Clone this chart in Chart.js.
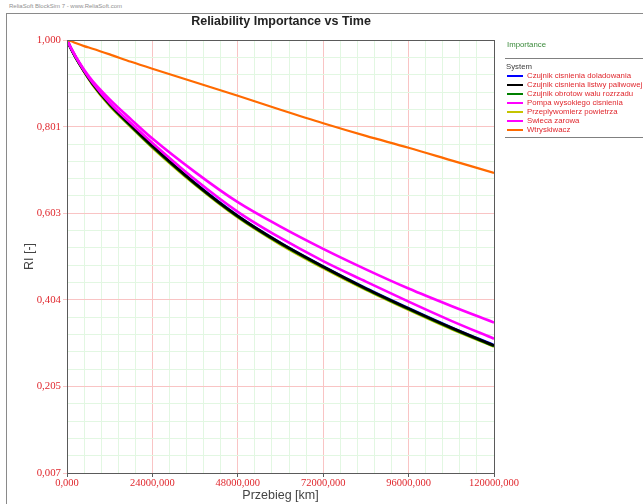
<!DOCTYPE html>
<html>
<head>
<meta charset="utf-8">
<script src="https://cdn.jsdelivr.net/npm/chart.js@4.4.1/dist/chart.umd.min.js"></script>
<style>
  html, body { margin: 0; padding: 0; background: #fff; }
  body { width: 643px; height: 504px; position: relative; overflow: hidden; font-family: "Liberation Sans", Arial, sans-serif; }
  #frame { position: absolute; left: 6px; top: 13px; width: 700px; height: 600px; border-left: 1px solid #8a8a8a; border-top: 1px solid #8a8a8a; }
  #hdr { position: absolute; left: 9px; top: 3px; font-size: 6px; color: #909090; white-space: nowrap; }
  #chartBox { position: absolute; left: 0; top: 0; width: 562px; height: 504px; }
  #legend { position: absolute; left: 505px; top: 38px; width: 138px; font-size: 7.8px; }
  #legend .head { color: #3a8a3a; height: 14px; line-height: 14px; padding-left: 2px; margin-bottom: 6px; }
  #legend .sep { border-top: 1px solid #808080; height: 0; margin: 0; }
  #legend .sys { color: #404040; line-height: 9px; height: 9px; padding-left: 1px; margin-top: 3px; }
  #legend .row { height: 9px; line-height: 9px; position: relative; white-space: nowrap; }
  #legend .row .sw { position: absolute; left: 2px; top: 4px; width: 16px; height: 2px; }
  #legend .row .tx { position: absolute; left: 22px; top: 0; color: #e0282e; }
</style>
</head>
<body>
<div id="hdr">ReliaSoft BlockSim 7 - www.ReliaSoft.com</div>
<div id="frame"></div>
<div id="chartBox"><canvas id="c" width="562" height="504"></canvas></div>
<div id="legend"></div>
<script>
// ---- data ----
const xValues = [0, 1200000, 2400000, 4800000, 7200000, 12000000, 18000000, 24000000, 36000000, 48000000, 60000000, 72000000, 84000000, 96000000, 108000000, 120000000];

const seriesNames = [
  "Czujnik cisnienia doladowania",
  "Czujnik cisnienia listwy paliwowej",
  "Czujnik obrotow walu rozrzadu",
  "Pompa wysokiego cisnienia",
  "Przeplywomierz powietrza",
  "Swieca zarowa",
  "Wtryskiwacz"
];
const seriesColors = ["#0000ff", "#000000", "#008000", "#ff00ff", "#c4c400", "#ff00ff", "#ff6a00"];

const doladowania = [1.000, 0.979, 0.961, 0.929, 0.900, 0.853, 0.804, 0.757, 0.672, 0.597, 0.535, 0.481, 0.431, 0.385, 0.341, 0.300];
const listwy      = [1.000, 0.979, 0.961, 0.929, 0.900, 0.853, 0.804, 0.757, 0.671, 0.596, 0.534, 0.480, 0.430, 0.384, 0.340, 0.299];
const obrotow     = [1.000, 0.979, 0.960, 0.928, 0.899, 0.851, 0.802, 0.755, 0.670, 0.595, 0.533, 0.479, 0.429, 0.383, 0.339, 0.298];
const pompa       = [1.000, 0.981, 0.963, 0.932, 0.906, 0.864, 0.818, 0.774, 0.697, 0.628, 0.572, 0.521, 0.474, 0.430, 0.390, 0.352];
const przeplyw    = [1.000, 0.979, 0.960, 0.927, 0.897, 0.849, 0.800, 0.753, 0.668, 0.593, 0.531, 0.477, 0.427, 0.381, 0.337, 0.297];
const swieca      = [1.000, 0.980, 0.962, 0.930, 0.902, 0.856, 0.809, 0.764, 0.680, 0.606, 0.546, 0.493, 0.446, 0.400, 0.356, 0.315];
const wtryskiwacz = [1.000, 0.997, 0.993, 0.986, 0.980, 0.967, 0.950, 0.934, 0.903, 0.872, 0.840, 0.809, 0.780, 0.753, 0.724, 0.695];

const yTickValues = [0.007, 0.205, 0.404, 0.603, 0.801, 1.000];
const yTickLabels = ["0,007", "0,205", "0,404", "0,603", "0,801", "1,000"];
const xTickValues = [0, 24000000, 48000000, 72000000, 96000000, 120000000];
const xTickLabels = ["0,000", "24000,000", "48000,000", "72000,000", "96000,000", "120000,000"];
const minorDivisions = 5;

const allSeries = [doladowania, listwy, obrotow, pompa, przeplyw, swieca, wtryskiwacz];
const drawOrder = [4, 2, 3, 1, 5, 1, 0]; // lower = drawn on top

// ---- legend (HTML text) ----
(function buildLegend() {
  const lg = document.getElementById('legend');
  let html = '<div class="head">Importance</div><div class="sep"></div><div class="sys">System</div>';
  seriesNames.forEach((n, i) => {
    html += '<div class="row"><div class="sw" style="background:' + seriesColors[i] + '"></div><div class="tx">' + n + '</div></div>';
  });
  html += '<div class="sep" style="margin-top:3px"></div>';
  lg.innerHTML = html;
})();

function withMinor(majors) {
  const out = [];
  for (let i = 0; i < majors.length; i++) {
    out.push({ value: majors[i], major: true });
    if (i < majors.length - 1) {
      const step = (majors[i + 1] - majors[i]) / minorDivisions;
      for (let k = 1; k < minorDivisions; k++) out.push({ value: majors[i] + k * step, major: false });
    }
  }
  return out;
}

const MAJOR_GRID = '#f9c4c4';
const MINOR_GRID = '#e2f7e2';
const AXIS_COL = '#5a5a5a';
const TICK_RED = '#e0282e';

const frameBorder = {
  id: 'frameBorder',
  afterDatasetsDraw(chart) {
    const { ctx, chartArea: a } = chart;
    ctx.save();
    ctx.strokeStyle = AXIS_COL;
    ctx.lineWidth = 1;
    ctx.strokeRect(Math.round(a.left) + 0.5, Math.round(a.top) + 0.5, Math.round(a.right - a.left), Math.round(a.bottom - a.top));
    ctx.restore();
  }
};

const datasets = allSeries.map((vals, i) => ({
  label: seriesNames[i],
  data: xValues.map((x, j) => ({ x: x, y: vals[j] })),
  borderColor: seriesColors[i],
  backgroundColor: seriesColors[i],
  borderWidth: i === 6 ? 2.2 : 2.6,
  pointRadius: 0,
  fill: false,
  cubicInterpolationMode: 'monotone',
  order: drawOrder[i]
}));

new Chart(document.getElementById('c'), {
  type: 'line',
  data: { datasets },
  options: {
    responsive: false,
    animation: false,
    devicePixelRatio: 1,
    layout: { padding: { left: 0, right: 0, top: 0, bottom: 0 } },
    plugins: {
      legend: { display: false },
      tooltip: { enabled: false },
      title: {
        display: true,
        text: 'Reliability Importance vs Time',
        color: '#222',
        font: { family: '"Liberation Sans", Arial, sans-serif', size: 12.5, weight: 'bold' },
        padding: { top: 14, bottom: 11 }
      }
    },
    scales: {
      x: {
        type: 'linear',
        min: 0, max: 120000000,
        afterFit(s) { s.height = 31; },
        afterBuildTicks(s) { s.ticks = withMinor(xTickValues); },
        ticks: {
          autoSkip: false, maxRotation: 0, padding: 0,
          color: TICK_RED,
          font: { family: '"Liberation Serif", "Times New Roman", serif', size: 10.5 },
          callback(v) {
            const k = xTickValues.indexOf(v);
            return k >= 0 ? xTickLabels[k] : '';
          }
        },
        grid: {
          color: c => (c.tick && c.tick.major) ? MAJOR_GRID : MINOR_GRID,
          tickColor: c => (c.tick && c.tick.major) ? AXIS_COL : 'rgba(0,0,0,0)',
          tickLength: 4,
          lineWidth: 1
        },
        border: { display: true, color: AXIS_COL, width: 1 },
        title: {
          display: true, text: 'Przebieg [km]', color: '#444',
          font: { family: '"Liberation Sans", Arial, sans-serif', size: 12.5 },
          padding: { top: 0, bottom: 1 }
        }
      },
      y: {
        type: 'linear',
        position: 'left',
        min: 0.007, max: 1.000,
        afterFit(s) { s.width = 67; },
        afterBuildTicks(s) { s.ticks = withMinor(yTickValues); },
        ticks: {
          autoSkip: false, padding: 2,
          color: TICK_RED,
          font: { family: '"Liberation Serif", "Times New Roman", serif', size: 10.8 },
          callback(v) {
            const k = yTickValues.findIndex(t => Math.abs(t - v) < 1e-9);
            return k >= 0 ? yTickLabels[k] : '';
          }
        },
        grid: {
          color: c => (c.tick && c.tick.major) ? MAJOR_GRID : MINOR_GRID,
          tickColor: c => (c.tick && c.tick.major) ? MAJOR_GRID : 'rgba(0,0,0,0)',
          tickLength: 4,
          lineWidth: 1
        },
        border: { display: true, color: AXIS_COL, width: 1 },
        title: {
          display: true, text: 'RI [-]', color: '#444',
          font: { family: '"Liberation Sans", Arial, sans-serif', size: 12.5 },
          padding: { top: 22, bottom: 0 }
        }
      },
      ySpace: {
        type: 'linear',
        position: 'right',
        display: true,
        min: 0, max: 1,
        afterFit(s) { s.width = 68; },
        ticks: { display: false },
        grid: { display: false, drawOnChartArea: false },
        border: { display: false }
      }
    }
  },
  plugins: [frameBorder]
});
</script>
</body>
</html>
